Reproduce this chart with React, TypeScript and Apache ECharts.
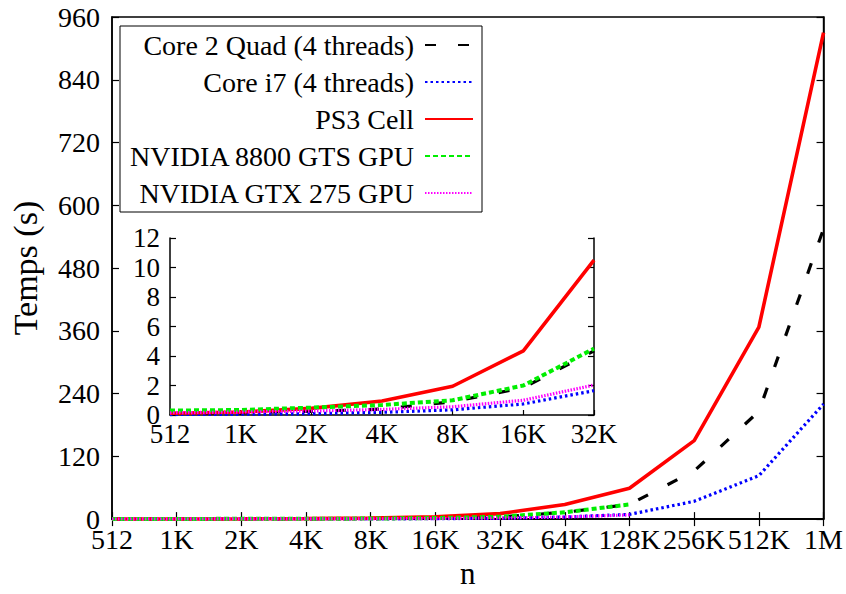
import React, { useEffect, useRef } from "react";
import * as echarts from "echarts";

const categories = ["512", "1K", "2K", "4K", "8K", "16K", "32K", "64K", "128K", "256K", "512K", "1M"];
const insetCount = 7; // 512 .. 32K

const seriesNames = [
  "Core 2 Quad (4 threads)",
  "Core i7 (4 threads)",
  "PS3 Cell",
  "NVIDIA 8800 GTS GPU",
  "NVIDIA GTX 275 GPU",
];

const core2Quad = [0.1, 0.15, 0.25, 0.4, 0.9, 1.85, 4.35, 13, 28, 92, 206, 555];
const corei7 = [0.03, 0.05, 0.09, 0.18, 0.35, 0.75, 1.65, 4, 9, 34, 83, 220];
const ps3Cell = [0.12, 0.2, 0.45, 0.95, 1.95, 4.35, 10.5, 28, 59, 150, 367, 930];
const gts8800 = [0.3, 0.34, 0.5, 0.68, 1.0, 2.0, 4.5, 13, 28, null, null, null];
const gtx275 = [0.15, 0.2, 0.27, 0.38, 0.56, 1.0, 2.03, 4, 8, null, null, null];

const mainYTicks = { min: 0, max: 960, interval: 120 };
const insetYTicks = { min: 0, max: 12, interval: 2 };

const FONT = "'Liberation Serif', 'Times New Roman', Times, 'DejaVu Serif', serif";

export default function App() {
  const ref = useRef<HTMLDivElement>(null);

  useEffect(() => {
    if (!ref.current) return;
    const chart = echarts.init(ref.current, null, { renderer: "svg" });

    const values = [core2Quad, corei7, ps3Cell, gts8800, gtx275];
    const styles = [
      { color: "#000000", width: 3.2, type: [11, 22] },
      { color: "#0000ff", width: 3.2, type: [2.5, 3] },
      { color: "#ff0000", width: 3.6, type: "solid" },
      { color: "#00ee00", width: 4, type: [5, 3] },
      { color: "#ff00ff", width: 3.2, type: [1.5, 1.5] },
    ];

    const series: any[] = [];
    values.forEach((v, i) => {
      const ls = styles[i];
      const base = {
        type: "line",
        name: seriesNames[i],
        symbol: "none",
        color: ls.color,
        lineStyle: { color: ls.color, width: ls.width, type: ls.type, cap: "butt" },
      };
      series.push({ ...base, xAxisIndex: 0, yAxisIndex: 0, data: v });
      series.push({ ...base, xAxisIndex: 2, yAxisIndex: 2, data: v.slice(0, insetCount) });
    });

    const axisLine = { show: true, lineStyle: { color: "#000", width: 1.5 } };
    const tick = (len: number) => ({ show: true, inside: true, length: len, lineStyle: { color: "#000", width: 1.2 } });
    const insetCats = categories.slice(0, insetCount);

    chart.setOption({
      animation: false,
      backgroundColor: "#ffffff",
      textStyle: { fontFamily: FONT },
      grid: [
        { left: 111, right: 21, top: 17, bottom: 70, show: true, borderColor: "#000", borderWidth: 1.5, backgroundColor: "transparent" },
        { left: 170, right: 252, top: 238, bottom: 179, show: true, borderWidth: 0, backgroundColor: "#ffffff" },
      ],
      xAxis: [
        {
          gridIndex: 0, type: "category", data: categories, boundaryGap: false, position: "bottom",
          name: "n", nameLocation: "middle", nameGap: 37,
          nameTextStyle: { fontFamily: FONT, fontSize: 31, color: "#000" },
          axisLine, axisTick: tick(7),
          axisLabel: { interval: 0, fontFamily: FONT, fontSize: 28, color: "#000", margin: 6 },
          splitLine: { show: false },
        },
        {
          gridIndex: 0, type: "category", data: categories, boundaryGap: false, position: "top",
          axisLine, axisTick: tick(7), axisLabel: { show: false }, splitLine: { show: false },
        },
        {
          gridIndex: 1, type: "category", data: insetCats, boundaryGap: false, position: "bottom",
          axisLine, axisTick: tick(5),
          axisLabel: { interval: 0, fontFamily: FONT, fontSize: 27, color: "#000", margin: 5 },
          splitLine: { show: false },
        },
      ],
      yAxis: [
        {
          gridIndex: 0, type: "value", ...mainYTicks, position: "left",
          name: "Temps (s)", nameLocation: "middle", nameGap: 70,
          nameTextStyle: { fontFamily: FONT, fontSize: 34, color: "#000" },
          axisLine, axisTick: tick(7),
          axisLabel: { fontFamily: FONT, fontSize: 28, color: "#000", margin: 12 },
          splitLine: { show: false },
        },
        {
          gridIndex: 0, type: "value", ...mainYTicks, position: "right",
          axisLine, axisTick: tick(7), axisLabel: { show: false }, splitLine: { show: false },
        },
        {
          gridIndex: 1, type: "value", ...insetYTicks, position: "left",
          axisLine, axisTick: tick(6),
          axisLabel: { fontFamily: FONT, fontSize: 27, color: "#000", margin: 10 },
          splitLine: { show: false },
        },
        {
          gridIndex: 1, type: "value", ...insetYTicks, position: "right",
          axisLine, axisTick: tick(6), axisLabel: { show: false }, splitLine: { show: false },
        },
      ],
      legend: {
        data: seriesNames,
        orient: "vertical",
        align: "right",
        left: 120,
        top: 26,
        itemWidth: 48,
        itemHeight: 14,
        itemGap: 7,
        padding: [4, 8, 4, 8],
        borderColor: "#000",
        borderWidth: 1,
        backgroundColor: "#ffffff",
        selectedMode: false,
        itemStyle: { color: "rgba(0,0,0,0)", borderColor: "rgba(0,0,0,0)", borderWidth: 0, opacity: 0 },
        textStyle: {
          fontFamily: FONT,
          fontSize: 28,
          color: "#000",
          lineHeight: 30,
          width: 286,
          align: "right",
          padding: [0, 6, 0, 0],
        },
      },
      series,
    });

    return () => chart.dispose();
  }, []);

  return (
    <div
      ref={ref}
      style={{ position: "fixed", left: 0, top: 0, width: 846, height: 594, background: "#fff" }}
    />
  );
}
